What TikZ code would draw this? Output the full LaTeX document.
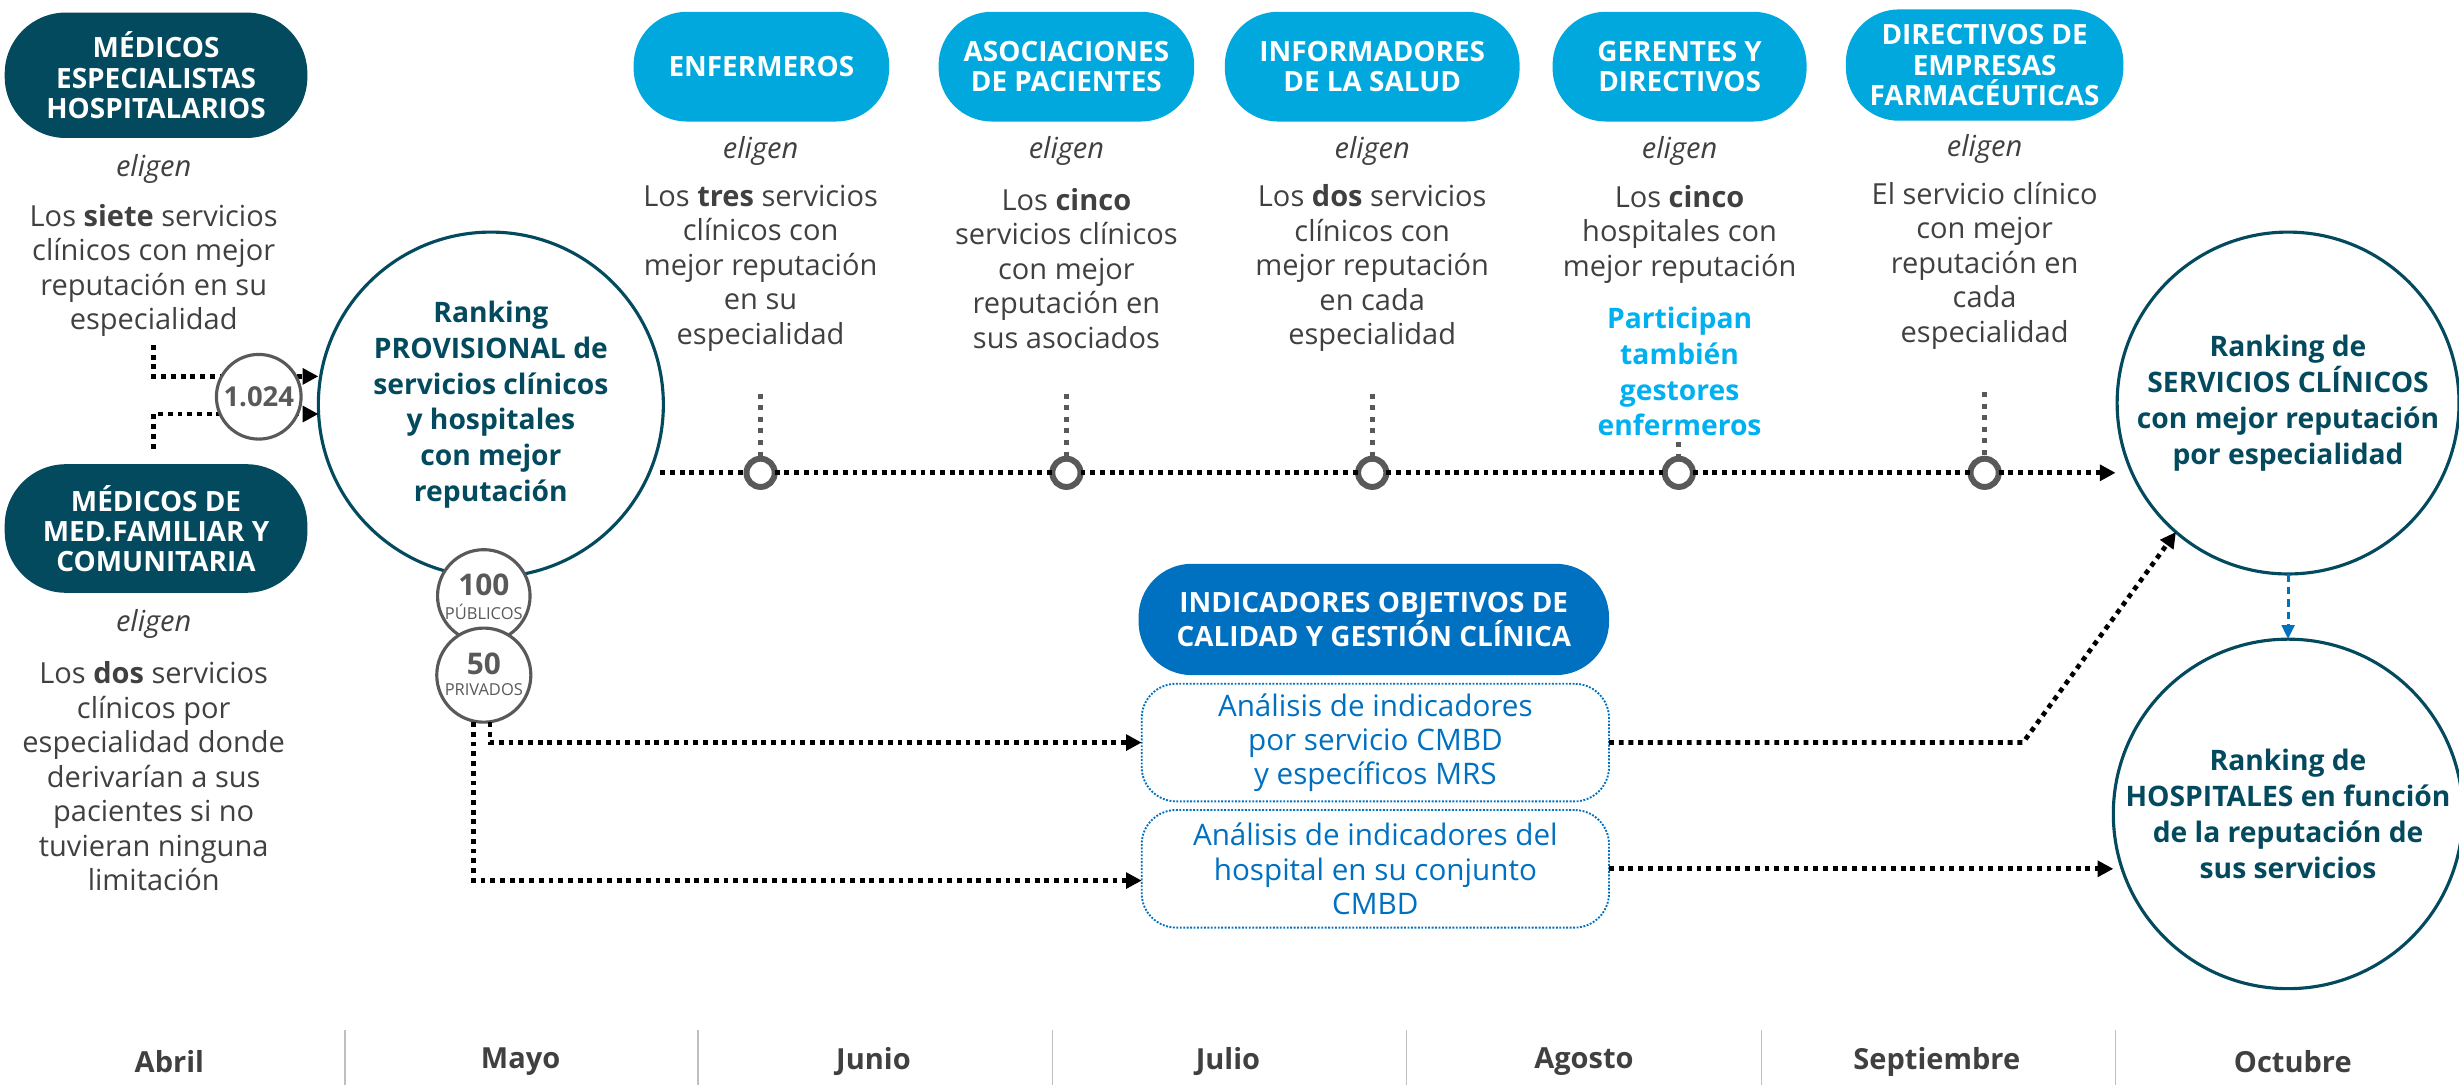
\documentclass[tikz,border=0pt]{standalone}
\usepackage{fontspec}
\setmainfont{Open Sans}
\usetikzlibrary{arrows.meta,calc}
\definecolor{darkteal}{HTML}{034A5E}
\definecolor{pillblue}{HTML}{00A8DE}
\definecolor{indblue}{HTML}{0070C0}
\definecolor{partblue}{HTML}{00B0F0}
\definecolor{txtgray}{HTML}{404040}
\definecolor{mkgray}{HTML}{595959}
\definecolor{sepgray}{HTML}{BFBFBF}
\newcommand{\fsTxt}{\fontsize{18.5}{22}\selectfont}
\newcommand{\fsPill}{\fontsize{17.8}{19.3}\selectfont\bfseries}
\newcommand{\fsRank}{\fontsize{18}{22.8}\selectfont\bfseries}
\newcommand{\fsBox}{\fontsize{18.9}{21.7}\selectfont}
\newcommand{\fsMonth}{\fontsize{18.5}{20}\selectfont\bfseries}
\begin{document}
\begin{tikzpicture}[x=1pt,y=-1pt,
  every node/.style={inner sep=0pt,outer sep=0pt},
  pillD/.style={fill=darkteal,rounded corners=39pt,minimum width=193pt,minimum height=80pt,text=white,font=\fsPill,align=center},
  pillL/.style={fill=pillblue,rounded corners=34pt,minimum height=70pt,text=white,font=\fsPill,align=center},
  pillI/.style={fill=indblue,rounded corners=34pt,minimum width=300pt,minimum height=71pt,text=white,font=\fsPill,align=center},
  txt/.style={text=txtgray,font=\fsTxt,align=center},
  elig/.style={text=txtgray,font=\fsTxt\itshape,align=center},
  part/.style={text=partblue,font=\fsRank,align=center},
  rank/.style={circle,draw=darkteal,line width=2pt,fill=white,minimum size=218pt,text=darkteal,font=\fsRank,align=center},
  numc/.style={circle,draw=mkgray,line width=2pt,fill=white,text=mkgray,align=center},
  mk/.style={circle,draw=mkgray,line width=3.8pt,fill=white,minimum size=18pt},
  dbox/.style={draw=indblue,densely dotted,line width=1.2pt,rounded corners=22pt,minimum width=298pt,minimum height=75pt,text=indblue,font=\fsBox,align=center},
  blk/.style={draw=black,line width=3pt,dash pattern=on 3.1pt off 3.1pt},
  tip/.style={-{Triangle[length=10pt,width=10pt]}},
  gdot/.style={draw=mkgray,line width=3pt,dash pattern=on 3.2pt off 4.2pt},
  bdash/.style={draw=indblue,line width=2pt,dash pattern=on 5pt off 3pt,-{Triangle[length=9pt,width=8pt]}},
  month/.style={text=txtgray,font=\fsMonth},
  sep/.style={draw=sepgray,line width=0.8pt}
]
\useasboundingbox (0,0) rectangle (1568,692);

% ---- left column
\node[pillD] (esp) at (99.5,48) {MÉDICOS\\ESPECIALISTAS\\HOSPITALARIOS};
\node[elig] (el1) at (98,108) {eligen};
\node[txt] (t1) at (98,172.5) {Los \textbf{siete} servicios\\clínicos con mejor\\reputación en su\\especialidad};
\node[pillD,minimum height=82pt] (fam) at (99.5,337) {MÉDICOS DE\\MED.FAMILIAR Y\\COMUNITARIA};
\node[elig] (el2) at (98,398) {eligen};
\node[txt] (t2) at (98,495) {Los \textbf{dos} servicios\\clínicos por\\especialidad donde\\derivarían a sus\\pacientes si no\\tuvieran ninguna\\limitación};

% ---- provisional ranking
\node[rank,minimum size=220pt] (prov) at (313,258) {Ranking\\PROVISIONAL de\\servicios clínicos\\y hospitales\\con mejor\\reputación};

\coordinate (s1) at (98,220);
\coordinate (s2) at (98,286);
\draw[blk,tip] (s1) |- ($(prov.west)+(0,-18)$);
\draw[blk,tip] (s2) |- ($(prov.west)+(0,6)$);
\node[numc,minimum size=54pt,font=\fontsize{17.5}{18}\selectfont\bfseries] (n1024) at (165,253) {1.024};

\node[numc,minimum size=59pt] (pub) at (308.5,380) {};
\node[text=mkgray,font=\fontsize{19}{19}\selectfont\bfseries] (pubn) at (308.5,373) {100};
\node[text=mkgray,font=\fontsize{10.5}{11}\selectfont] (publ) at (308.5,390.5) {PÚBLICOS};
\node[numc,minimum size=60pt] (priv) at (308.5,430.5) {};
\node[text=mkgray,font=\fontsize{19}{19}\selectfont\bfseries] (privn) at (308.5,423.5) {50};
\node[text=mkgray,font=\fontsize{10.5}{11}\selectfont] (privl) at (308.5,440) {PRIVADOS};

% ---- top pills
\node[pillL,minimum width=163pt] (enf) at (485.5,42.5) {ENFERMEROS};
\node[pillL,minimum width=163pt] (aso) at (680,42.5) {ASOCIACIONES\\DE PACIENTES};
\node[pillL,minimum width=188pt] (inf) at (875,42.5) {INFORMADORES\\DE LA SALUD};
\node[pillL,minimum width=162pt] (ger) at (1071,42.5) {GERENTES Y\\DIRECTIVOS};
\node[pillL,minimum width=177pt,minimum height=71pt] (dir) at (1265.5,41.5) {DIRECTIVOS DE\\EMPRESAS\\FARMACÉUTICAS};

\node[elig] (e3) at (485,96) {eligen};
\node[elig] (e4) at (680,96) {eligen};
\node[elig] (e5) at (875,96) {eligen};
\node[elig] (e6) at (1071,96) {eligen};
\node[elig] (e7) at (1265.5,95) {eligen};

\node[txt] (t3) at (485,171) {Los \textbf{tres} servicios\\clínicos con\\mejor reputación\\en su\\especialidad};
\node[txt] (t4) at (680,171) {Los \textbf{cinco}\\servicios clínicos\\con mejor\\reputación en\\sus asociados};
\node[txt] (t5) at (875,171) {Los \textbf{dos} servicios\\clínicos con\\mejor reputación\\en cada\\especialidad};
\node[txt] (t6) at (1071,149.5) {Los \textbf{cinco}\\hospitales con\\mejor reputación};
\node[part] (t6b) at (1071,237) {Participan\\también\\gestores\\enfermeros};
\node[txt] (t7) at (1265.5,169.5) {El servicio clínico\\con mejor\\reputación en\\cada\\especialidad};

% ---- timeline
\node[rank] (svc) at (1459,257) {Ranking de\\SERVICIOS CLÍNICOS\\con mejor reputación\\por especialidad};
\node[mk] (m1) at (485,301.5) {};
\node[mk] (m2) at (680,301.5) {};
\node[mk] (m3) at (875,301.5) {};
\node[mk] (m4) at (1070.5,301.5) {};
\node[mk] (m5) at (1265.5,301.5) {};
\coordinate (tl0) at (421,301.5);
\coordinate (tlend) at (1349,301.5);
\draw[blk,tip] (tl0) -- (m1) -- (m2) -- (m3) -- (m4) -- (m5) -- (tlend);
\coordinate (v1) at (485,251);
\coordinate (v2) at (680,251);
\coordinate (v3) at (875,251);
\coordinate (v4) at (1070.5,282);
\coordinate (v5) at (1265.5,250);
\draw[gdot] (v1) -- (m1);
\draw[gdot] (v2) -- (m2);
\draw[gdot] (v3) -- (m3);
\draw[gdot] (v4) -- (m4);
\draw[gdot] (v5) -- (m5);

% ---- indicators
\node[pillI] (ind) at (876,395) {INDICADORES OBJETIVOS DE\\CALIDAD Y GESTIÓN CLÍNICA};
\node[dbox] (b1) at (877,473.5) {Análisis de indicadores\\por servicio CMBD\\y específicos MRS};
\node[dbox] (b2) at (877,554) {Análisis de indicadores del\\hospital en su conjunto\\CMBD};
\node[rank] (hosp) at (1459,519) {Ranking de\\HOSPITALES en función\\de la reputación de\\sus servicios};

\draw[blk,tip] ([xshift=4pt]priv.south) |- (b1.west);
\draw[blk,tip] ([xshift=-6.5pt]priv.south) |- ([yshift=-7.5pt]b2.west);
\coordinate (bend1) at (1290,473.5);
\draw[blk,tip] (b1.east) -- (bend1) -- (svc.229);
\draw[blk,tip] (b2.east) -- (b2.east -| hosp.west);
\draw[bdash] (svc.south) -- (hosp.north);

% ---- months
\node[month] (mo1) at (108,677) {Abril};
\node[month] (mo2) at (332,677) {Mayo};
\node[month] (mo3) at (557,677) {Junio};
\node[month] (mo4) at (783,677) {Julio};
\node[month] (mo5) at (1010,677) {Agosto};
\node[month] (mo6) at (1235,677) {Septiembre};
\node[month] (mo7) at (1462,677) {Octubre};
\foreach \sx in {220,445,671,897,1123,1349}{\draw[sep] (\sx,657) -- (\sx,692);}
\end{tikzpicture}
\end{document}
